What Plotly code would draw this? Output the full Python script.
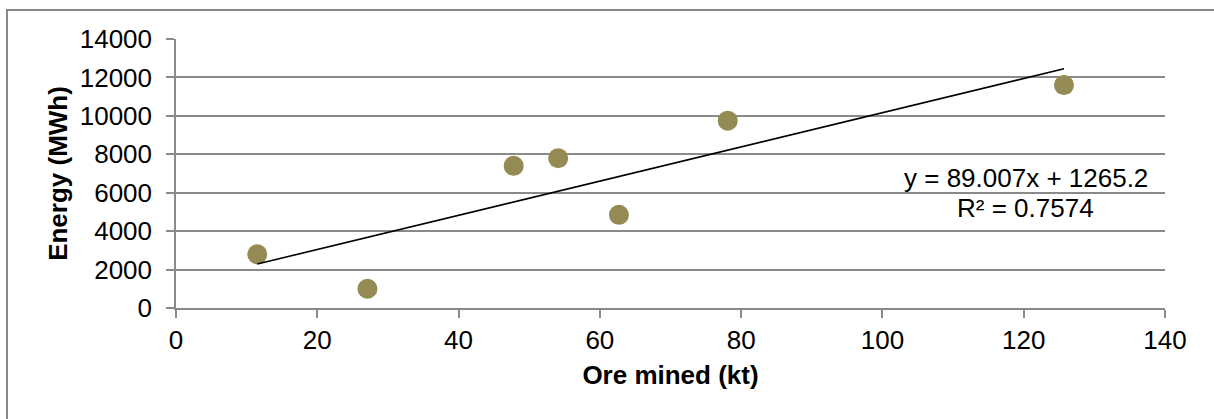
import plotly.graph_objects as go

ore_mined_kt = [11.5, 27.1, 47.8, 54.1, 62.7, 78.1, 125.7]
energy_mwh = [2800, 1000, 7400, 7800, 4850, 9750, 11600]
slope = 89.007
intercept = 1265.2
r_squared = 0.7574
x_ticks = [0, 20, 40, 60, 80, 100, 120, 140]
y_ticks = [0, 2000, 4000, 6000, 8000, 10000, 12000, 14000]

x_min, x_max = min(ore_mined_kt), max(ore_mined_kt)
trend_x = [x_min, x_max]
trend_y = [slope * v + intercept for v in trend_x]

FONT = "Liberation Sans, Arial, sans-serif"
GRID = "#8a8a8a"
FS = 26

fig = go.Figure()
fig.add_trace(go.Scatter(
    x=ore_mined_kt, y=energy_mwh, mode="markers",
    marker=dict(size=20, color="#948A54", line=dict(width=0)),
    showlegend=False, hoverinfo="x+y"))
fig.add_trace(go.Scatter(
    x=trend_x, y=trend_y, mode="lines",
    line=dict(color="black", width=1.6), showlegend=False))

fig.add_annotation(
    x=120.3, y=6767, xref="x", yref="y", showarrow=False,
    text=f"y = {slope}x + {intercept}",
    font=dict(family=FONT, size=FS, color="black"))
fig.add_annotation(
    x=120.3, y=5206, xref="x", yref="y", showarrow=False,
    text=f"R² = {r_squared}",
    font=dict(family=FONT, size=FS, color="black"))

L, R, T, B = 176, 1165, 39, 308
W, H = 1214, 419
pw, ph = R - L, B - T
px = lambda v: (v - L) / pw
py = lambda v: (B - v) / ph
BORDER = dict(color="#878787", width=2)
# chart-area frame: only its top and left edges fall inside the picture
fig.add_shape(type="line", xref="paper", yref="paper",
              x0=px(7), x1=px(W + 20), y0=py(10), y1=py(10), line=BORDER, layer="below")
fig.add_shape(type="line", xref="paper", yref="paper",
              x0=px(7), x1=px(7), y0=py(9), y1=py(H + 20), line=BORDER, layer="below")

fig.update_layout(
    width=W, height=H,
    margin=dict(l=L, r=W - R, t=T, b=H - B),
    paper_bgcolor="white", plot_bgcolor="white",
    font=dict(family=FONT, size=FS, color="black"),
    xaxis=dict(
        range=[0, 140], tickvals=x_ticks, tickformat="d", showgrid=False, zeroline=False,
        showline=True, linecolor=GRID, linewidth=1.5,
        ticks="outside", ticklen=8, tickcolor=GRID, tickwidth=1.5,
        ticklabelstandoff=0,
        title=dict(text="<b>Ore mined (kt)</b>", font=dict(size=FS), standoff=12)),
    yaxis=dict(
        range=[0, 14000], tickvals=y_ticks, tickformat="d", showgrid=True, gridcolor=GRID,
        gridwidth=1.5, zeroline=False,
        showline=True, linecolor=GRID, linewidth=1.5,
        ticks="outside", ticklen=8, tickcolor=GRID, tickwidth=1.5,
        ticklabelstandoff=9,
        title=dict(text="<b>Energy (MWh)</b>", font=dict(size=FS), standoff=5)),
)

fig.write_html(
    "out.html",
    config={"displayModeBar": False},
    post_script="document.body.style.margin='0';document.body.style.overflow='hidden';",
)
